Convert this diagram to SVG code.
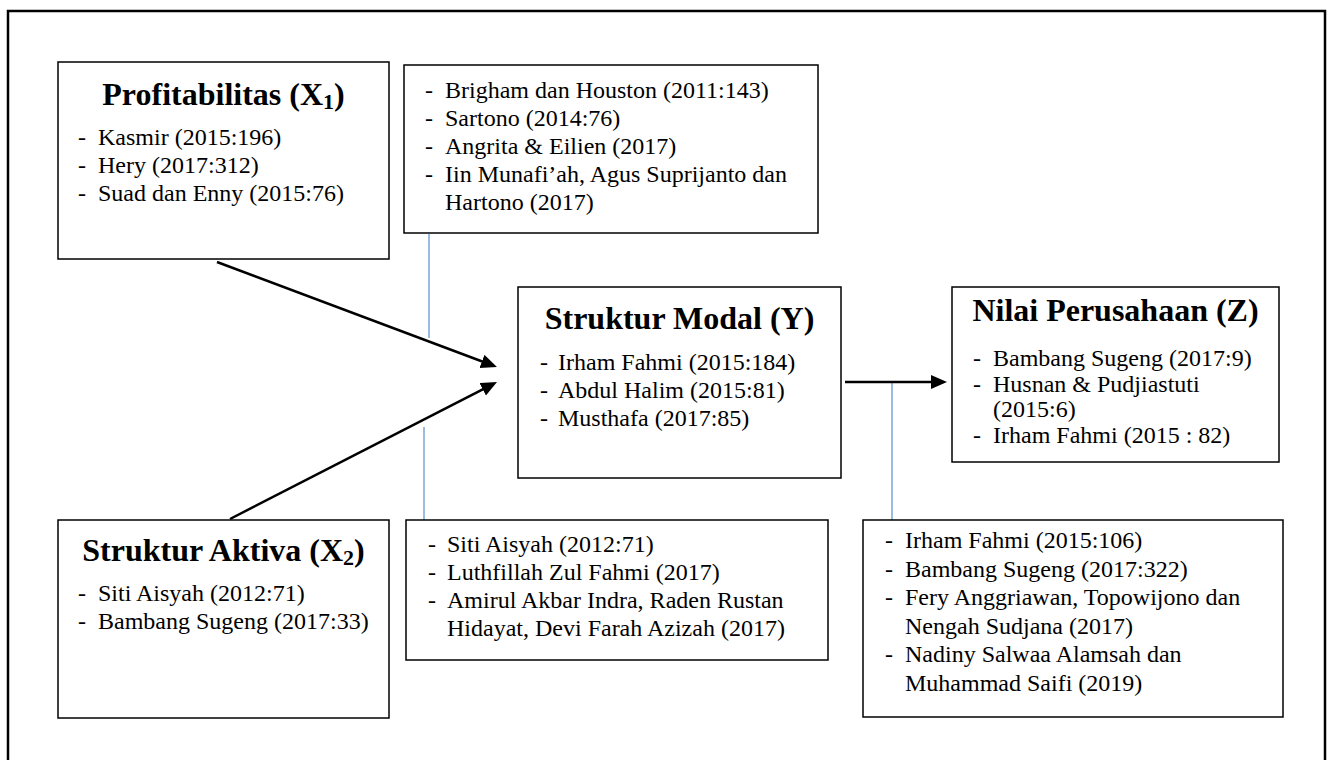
<svg xmlns="http://www.w3.org/2000/svg" width="1330" height="760" viewBox="0 0 1330 760">
<style>
.box{fill:#fff;stroke:#000;stroke-width:1.5}
.t{font-family:"Liberation Serif","Times New Roman",serif;font-size:24px;fill:#000}
.h{font-family:"Liberation Serif","Times New Roman",serif;font-size:32px;font-weight:bold;text-anchor:middle;fill:#000}
.conn{stroke:#000;stroke-width:2.5;fill:none}
.blue{stroke:#7aa6d8;stroke-width:1.5;fill:none}
</style>
<defs>
<marker id="ah" markerUnits="userSpaceOnUse" markerWidth="17" markerHeight="15" refX="6" refY="7" orient="auto">
<path d="M0,0 L16,7 L0,14 z" fill="#000"/>
</marker>
</defs>
<rect x="0" y="0" width="1330" height="760" fill="#fff"/>
<rect id="frame" x="8" y="11" width="1317" height="800" fill="none" stroke="#000" stroke-width="2.5"/>

<g id="connectors">
<line class="blue" x1="429" y1="234" x2="429" y2="338"/>
<line class="blue" x1="424" y1="427" x2="424" y2="520"/>
<line class="blue" x1="892" y1="382" x2="892" y2="520"/>
<line class="conn" x1="217" y1="262" x2="487.6" y2="363.5" marker-end="url(#ah)"/>
<line class="conn" x1="230" y1="519" x2="488.1" y2="386.6" marker-end="url(#ah)"/>
<line class="conn" x1="845" y1="382" x2="937" y2="382" marker-end="url(#ah)"/>
</g>

<g id="profitabilitas">
<rect class="box" x="58" y="62" width="331" height="197"/>
<text class="h" x="223.5" y="105">Profitabilitas (X<tspan font-size="22" dy="4">1</tspan><tspan dy="-4">)</tspan></text>
<text class="t" x="78" y="145">-</text><text class="t" x="98" y="145">Kasmir (2015:196)</text>
<text class="t" x="78" y="173">-</text><text class="t" x="98" y="173">Hery (2017:312)</text>
<text class="t" x="78" y="201">-</text><text class="t" x="98" y="201">Suad dan Enny (2015:76)</text>
</g>

<g id="teori-struktur-modal">
<rect class="box" x="404" y="65" width="414" height="168"/>
<text class="t" x="425" y="98">-</text><text class="t" x="445" y="98">Brigham dan Houston (2011:143)</text>
<text class="t" x="425" y="126">-</text><text class="t" x="445" y="126">Sartono (2014:76)</text>
<text class="t" x="425" y="154">-</text><text class="t" x="445" y="154">Angrita &amp; Eilien (2017)</text>
<text class="t" x="425" y="182">-</text><text class="t" x="445" y="182">Iin Munafi’ah, Agus Suprijanto dan</text>
<text class="t" x="445" y="210">Hartono (2017)</text>
</g>

<g id="struktur-modal">
<rect class="box" x="518" y="287" width="323" height="191"/>
<text class="h" x="679.5" y="329">Struktur Modal (Y)</text>
<text class="t" x="540" y="370">-</text><text class="t" x="558" y="370">Irham Fahmi (2015:184)</text>
<text class="t" x="540" y="398">-</text><text class="t" x="558" y="398">Abdul Halim (2015:81)</text>
<text class="t" x="540" y="426">-</text><text class="t" x="558" y="426">Musthafa (2017:85)</text>
</g>

<g id="nilai-perusahaan">
<rect class="box" x="952" y="287" width="327" height="175"/>
<text class="h" x="1115.5" y="321">Nilai Perusahaan (Z)</text>
<text class="t" x="973" y="366">-</text><text class="t" x="993" y="366">Bambang Sugeng (2017:9)</text>
<text class="t" x="973" y="391.5">-</text><text class="t" x="993" y="391.5">Husnan &amp; Pudjiastuti</text>
<text class="t" x="993" y="417">(2015:6)</text>
<text class="t" x="973" y="442.5">-</text><text class="t" x="993" y="442.5">Irham Fahmi (2015 : 82)</text>
</g>

<g id="struktur-aktiva">
<rect class="box" x="58" y="520" width="331" height="198"/>
<text class="h" x="223.5" y="561">Struktur Aktiva (X<tspan font-size="22" dy="4">2</tspan><tspan dy="-4">)</tspan></text>
<text class="t" x="78" y="601">-</text><text class="t" x="98" y="601">Siti Aisyah (2012:71)</text>
<text class="t" x="78" y="629">-</text><text class="t" x="98" y="629">Bambang Sugeng (2017:33)</text>
</g>

<g id="teori-struktur-aktiva">
<rect class="box" x="406" y="520" width="422" height="140"/>
<text class="t" x="428" y="552">-</text><text class="t" x="447" y="552">Siti Aisyah (2012:71)</text>
<text class="t" x="428" y="580">-</text><text class="t" x="447" y="580">Luthfillah Zul Fahmi (2017)</text>
<text class="t" x="428" y="608">-</text><text class="t" x="447" y="608">Amirul Akbar Indra, Raden Rustan</text>
<text class="t" x="447" y="636">Hidayat, Devi Farah Azizah (2017)</text>
</g>

<g id="teori-nilai-perusahaan">
<rect class="box" x="863" y="520" width="420" height="197"/>
<text class="t" x="885" y="548">-</text><text class="t" x="905" y="548">Irham Fahmi (2015:106)</text>
<text class="t" x="885" y="576.5">-</text><text class="t" x="905" y="576.5">Bambang Sugeng (2017:322)</text>
<text class="t" x="885" y="605">-</text><text class="t" x="905" y="605">Fery Anggriawan, Topowijono dan</text>
<text class="t" x="905" y="633.5">Nengah Sudjana (2017)</text>
<text class="t" x="885" y="662">-</text><text class="t" x="905" y="662">Nadiny Salwaa Alamsah dan</text>
<text class="t" x="905" y="690.5">Muhammad Saifi (2019)</text>
</g>
</svg>
